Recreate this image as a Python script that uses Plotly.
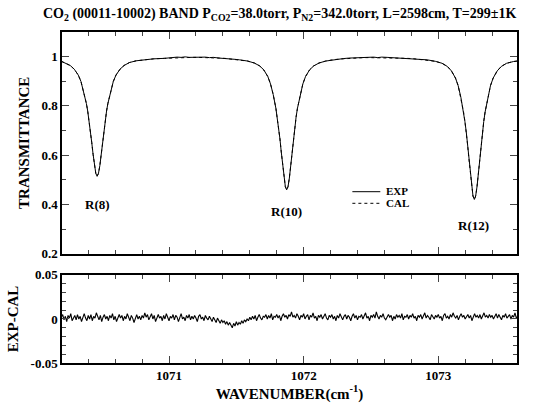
import numpy as np
import plotly.graph_objects as go

# ---------------- data ----------------
wn_exp = [1070.200, 1070.226, 1070.266, 1070.296, 1070.326, 1070.346, 1070.366, 1070.386,
          1070.396, 1070.406, 1070.416, 1070.426, 1070.436, 1070.446, 1070.456, 1070.466,
          1070.476, 1070.486, 1070.496, 1070.506, 1070.516, 1070.526, 1070.536, 1070.546,
          1070.566, 1070.586, 1070.606, 1070.636, 1070.666, 1070.706, 1070.756, 1070.816,
          1070.886, 1070.966, 1071.000, 1071.030, 1071.060, 1071.090, 1071.120, 1071.150,
          1071.180, 1071.210, 1071.240, 1071.270, 1071.300, 1071.330, 1071.374, 1071.414,
          1071.454, 1071.490, 1071.524, 1071.554, 1071.584, 1071.634, 1071.674, 1071.704,
          1071.734, 1071.754, 1071.774, 1071.794, 1071.804, 1071.814, 1071.824, 1071.834,
          1071.844, 1071.854, 1071.864, 1071.874, 1071.884, 1071.894, 1071.904, 1071.914,
          1071.924, 1071.934, 1071.944, 1071.954, 1071.974, 1071.994, 1072.014, 1072.044,
          1072.074, 1072.114, 1072.164, 1072.224, 1072.294, 1072.334, 1072.374, 1072.420,
          1072.450, 1072.480, 1072.520, 1072.550, 1072.580, 1072.620, 1072.650, 1072.680,
          1072.720, 1072.768, 1072.808, 1072.848, 1072.918, 1072.978, 1073.028, 1073.068,
          1073.098, 1073.128, 1073.148, 1073.168, 1073.188, 1073.198, 1073.208, 1073.218,
          1073.228, 1073.238, 1073.248, 1073.258, 1073.268, 1073.278, 1073.288, 1073.298,
          1073.308, 1073.318, 1073.328, 1073.338, 1073.348, 1073.368, 1073.388, 1073.408,
          1073.438, 1073.468, 1073.508, 1073.558, 1073.600]

t_exp = [0.981, 0.975, 0.964, 0.949, 0.925, 0.899, 0.860, 0.810,
         0.779, 0.742, 0.699, 0.651, 0.603, 0.557, 0.526, 0.514,
         0.526, 0.557, 0.603, 0.651, 0.699, 0.742, 0.779, 0.810,
         0.860, 0.899, 0.925, 0.949, 0.964, 0.976, 0.983, 0.988,
         0.991, 0.993, 0.995, 0.996, 0.998, 0.997, 0.999, 0.997,
         0.998, 0.999, 0.997, 0.998, 0.996, 0.997, 0.994, 0.993,
         0.991, 0.989, 0.987, 0.985, 0.982, 0.974, 0.962, 0.946,
         0.919, 0.889, 0.846, 0.790, 0.755, 0.715, 0.666, 0.612,
         0.559, 0.507, 0.472, 0.459, 0.472, 0.507, 0.559, 0.612,
         0.666, 0.715, 0.755, 0.790, 0.846, 0.889, 0.919, 0.946,
         0.962, 0.974, 0.982, 0.988, 0.992, 0.994, 0.995, 0.996,
         0.998, 0.997, 0.998, 0.996, 0.998, 0.997, 0.996, 0.997,
         0.995, 0.993, 0.992, 0.990, 0.987, 0.981, 0.973, 0.960,
         0.942, 0.913, 0.882, 0.835, 0.775, 0.737, 0.694, 0.642,
         0.584, 0.527, 0.472, 0.434, 0.420, 0.434, 0.472, 0.527,
         0.584, 0.642, 0.694, 0.737, 0.775, 0.835, 0.882, 0.913,
         0.942, 0.960, 0.973, 0.980, 0.983]

wn_cal = wn_exp
t_cal = [0.981, 0.975, 0.964, 0.949, 0.925, 0.899, 0.860, 0.810,
         0.779, 0.742, 0.699, 0.651, 0.603, 0.557, 0.526, 0.514,
         0.526, 0.557, 0.603, 0.651, 0.699, 0.742, 0.779, 0.810,
         0.860, 0.899, 0.925, 0.949, 0.964, 0.976, 0.983, 0.988,
         0.991, 0.993, 0.994, 0.995, 0.996, 0.996, 0.997, 0.997,
         0.997, 0.997, 0.997, 0.996, 0.996, 0.995, 0.994, 0.993,
         0.991, 0.989, 0.987, 0.985, 0.982, 0.974, 0.962, 0.946,
         0.919, 0.889, 0.846, 0.790, 0.755, 0.715, 0.666, 0.612,
         0.559, 0.507, 0.472, 0.459, 0.472, 0.507, 0.559, 0.612,
         0.666, 0.715, 0.755, 0.790, 0.846, 0.889, 0.919, 0.946,
         0.962, 0.974, 0.982, 0.988, 0.991, 0.993, 0.994, 0.995,
         0.996, 0.996, 0.996, 0.996, 0.996, 0.996, 0.995, 0.995,
         0.994, 0.993, 0.992, 0.990, 0.987, 0.981, 0.973, 0.960,
         0.942, 0.913, 0.882, 0.835, 0.775, 0.737, 0.694, 0.642,
         0.584, 0.527, 0.472, 0.434, 0.420, 0.434, 0.472, 0.527,
         0.584, 0.642, 0.694, 0.737, 0.775, 0.835, 0.882, 0.913,
         0.942, 0.960, 0.973, 0.980, 0.983]

# residual EXP-CAL, read every 0.01 cm-1 from 1070.20 to 1073.60
resid = [
    0.002, 0.005, -0.001, 0.003, -0.003, 0.004, 0.001, 0.006, -0.002, 0.002,
    0.004, -0.001, 0.005, 0.000, 0.003, -0.003, 0.002, 0.006, 0.001, -0.002,
    0.004, 0.000, 0.005, -0.002, 0.003, 0.001, 0.007, 0.002, -0.001, 0.004,
    -0.003, 0.002, 0.005, 0.000, 0.003, -0.002, 0.004, 0.001, 0.006, -0.001,
    0.003, -0.003, 0.002, 0.005, 0.001, 0.004, -0.002, 0.003, 0.000, 0.006,
    0.002, -0.002, 0.004, 0.001, -0.004, 0.002, 0.005, 0.000, 0.003, -0.001,
    0.004, 0.001, 0.007, 0.002, 0.005, -0.001, 0.003, 0.006, 0.000, 0.004,
    -0.003, 0.002, 0.005, 0.001, 0.003, -0.002, 0.004, 0.000, 0.006, 0.002,
    -0.002, 0.003, 0.001, 0.005, -0.001, 0.004, 0.002, -0.003, 0.003, 0.006,
    0.000, 0.002, -0.002, 0.004, 0.001, 0.005, -0.001, 0.003, 0.000, 0.004,
    0.001, -0.003, 0.003, 0.005, 0.000, 0.002, -0.002, 0.004, 0.001, -0.001,
    0.003, 0.000, -0.003, 0.002, -0.001, -0.004, 0.001, -0.002, -0.005, -0.001,
    -0.004, -0.002, -0.006, -0.003, -0.007, -0.004, -0.008, -0.010, -0.005, -0.008,
    -0.003, -0.007, -0.004, -0.006, -0.002, -0.005, -0.001, -0.003, 0.000, -0.002,
    0.002, -0.001, 0.003, 0.000, 0.004, -0.002, 0.002, 0.005, 0.001, -0.001,
    0.003, 0.002, 0.005, 0.000, 0.004, 0.001, 0.006, -0.001, 0.003, 0.002,
    0.005, 0.001, 0.004, -0.002, 0.003, 0.006, 0.002, 0.004, 0.000, 0.005,
    0.003, 0.008, 0.002, 0.004, 0.001, 0.006, 0.003, -0.001, 0.004, 0.002,
    0.006, 0.000, 0.003, 0.005, -0.001, 0.004, 0.002, 0.007, 0.001, 0.003,
    -0.002, 0.004, 0.002, 0.005, 0.000, 0.003, 0.006, 0.001, -0.001, 0.004,
    0.002, 0.005, 0.000, 0.003, -0.002, 0.004, 0.001, 0.006, 0.002, -0.001,
    0.003, 0.005, 0.000, 0.004, 0.002, -0.002, 0.003, 0.006, 0.001, 0.004,
    -0.001, 0.003, 0.002, 0.005, 0.000, 0.004, 0.007, 0.001, 0.003, -0.002,
    0.004, 0.002, 0.005, 0.001, 0.008, 0.003, 0.000, 0.004, 0.002, 0.006,
    0.001, -0.001, 0.003, 0.005, 0.002, 0.004, -0.002, 0.003, 0.000, 0.005,
    0.002, 0.004, 0.001, 0.006, -0.001, 0.003, 0.002, 0.005, 0.000, 0.004,
    0.002, 0.006, 0.001, 0.003, -0.002, 0.004, 0.002, 0.005, 0.000, 0.003,
    0.007, 0.001, 0.004, 0.002, -0.001, 0.005, 0.003, 0.000, 0.004, 0.002,
    0.005, 0.001, 0.003, -0.002, 0.004, 0.006, 0.001, 0.003, 0.000, 0.005,
    0.002, 0.007, 0.003, 0.001, 0.004, -0.001, 0.003, 0.006, 0.002, 0.004,
    0.000, 0.003, 0.005, 0.001, 0.004, -0.002, 0.003, 0.006, 0.002, 0.004,
    0.001, 0.005, 0.000, 0.003, 0.007, 0.002, 0.004, 0.001, 0.005, 0.002,
    0.004, 0.000, 0.003, 0.006, 0.001, 0.005, 0.002, -0.001, 0.004, 0.002,
    0.006, 0.001, 0.003, 0.005, 0.000, 0.004, 0.002, 0.007, 0.001, 0.003,
    0.002]
wn_resid = np.linspace(1070.20, 1073.60, len(resid))

line_labels = ["R(8)", "R(10)", "R(12)"]
line_label_x = [1070.466, 1071.874, 1073.260]
line_label_y = [0.398, 0.372, 0.315]

x_ticks = [1071, 1072, 1073]
y_ticks_top = [0.2, 0.4, 0.6, 0.8, 1.0]
y_ticktext_top = ["0.2", "0.4", "0.6", "0.8", "1"]
y_ticks_bot = [-0.05, 0, 0.05]
y_ticktext_bot = ["-0.05", "0", "0.05"]

# ---------------- figure ----------------
FONT = "Liberation Serif"
W, H = 537, 408
ML, MR, MT, MB = 61, 20, 32, 34
PW, PH = W - ML - MR, H - MT - MB


def px_x(p):
    return (p - ML) / PW


def px_y(p):
    return (H - MB - p) / PH


fig = go.Figure()
fig.add_trace(go.Scatter(x=wn_exp, y=t_exp, mode="lines", name="EXP",
                         line=dict(color="black", width=1), xaxis="x", yaxis="y",
                         showlegend=False))
fig.add_trace(go.Scatter(x=wn_cal, y=t_cal, mode="lines", name="CAL",
                         line=dict(color="black", width=1, dash="dot"), xaxis="x", yaxis="y",
                         showlegend=False))
fig.add_trace(go.Scatter(x=wn_resid, y=resid, mode="lines", name="EXP-CAL",
                         line=dict(color="black", width=1.1), xaxis="x2", yaxis="y2",
                         showlegend=False))

xrange = [1070.205, 1073.585]
common_x = dict(range=xrange, ticks="inside", ticklen=7, tickwidth=1,
                mirror="ticks", showline=True, linecolor="black", linewidth=1.5,
                showgrid=False, zeroline=False,
                minor=dict(dtick=0.2, tick0=1071, ticks="inside", ticklen=4,
                           tickwidth=1, showgrid=False),
                tickfont=dict(family=FONT, size=13, color="black"))

fig.update_layout(
    width=W, height=H, margin=dict(l=ML, r=MR, t=MT, b=MB),
    plot_bgcolor="white", paper_bgcolor="white",
    font=dict(family=FONT, color="black"),
    xaxis=dict(domain=[0, 1], anchor="y", showticklabels=False, **common_x),
    xaxis2=dict(domain=[0, 1], anchor="y2", showticklabels=True,
                title=dict(text="<b>WAVENUMBER(cm<sup>-1</sup>)</b>",
                           font=dict(family=FONT, size=15), standoff=2),
                **common_x),
    yaxis=dict(domain=[px_y(261), 1], anchor="x", range=[0.2, 1.1],
               tickvals=y_ticks_top, ticktext=["<b>%s</b>" % t for t in y_ticktext_top],
               ticks="inside", ticklen=7, mirror="ticks", showline=True,
               linecolor="black", linewidth=1.5, showgrid=False, zeroline=False,
               minor=dict(dtick=0.1, tick0=0.2, ticks="inside", ticklen=4, showgrid=False),
               tickfont=dict(family=FONT, size=13, color="black"),
               title=dict(text="<b>TRANSMITTANCE</b>", font=dict(family=FONT, size=15),
                          standoff=8)),
    yaxis2=dict(domain=[0, px_y(283)], anchor="x2", range=[-0.05, 0.05],
                tickvals=y_ticks_bot, ticktext=["<b>%s</b>" % t for t in y_ticktext_bot],
                ticks="inside", ticklen=7, mirror="ticks", showline=True,
                linecolor="black", linewidth=1.5, showgrid=False, zeroline=False,
                minor=dict(tickvals=[-0.04, -0.03, -0.02, -0.01, 0.01, 0.02, 0.03, 0.04],
                           ticks="inside", ticklen=4, showgrid=False),
                tickfont=dict(family=FONT, size=13, color="black"),
                title=dict(text="<b>EXP-CAL</b>", font=dict(family=FONT, size=15),
                           standoff=8)),
)

fig.update_xaxes(tickvals=x_ticks, ticktext=["<b>%d</b>" % v for v in x_ticks])

# title
fig.add_annotation(
    text="<b>CO<sub>2</sub> (00011-10002) BAND P<sub>CO2</sub>=38.0torr, "
         "P<sub>N2</sub>=342.0torr, L=2598cm, T=299±1K</b>",
    xref="paper", yref="paper", x=px_x(279), y=px_y(14), xanchor="center", yanchor="middle",
    showarrow=False, font=dict(family=FONT, size=14, color="black"))

# line labels
for lab, lx, ly in zip(line_labels, line_label_x, line_label_y):
    fig.add_annotation(text="<b>%s</b>" % lab, x=lx, y=ly, xref="x", yref="y",
                       showarrow=False, font=dict(family=FONT, size=13, color="black"))

# custom legend
fig.add_shape(type="line", xref="paper", yref="paper", x0=px_x(352), x1=px_x(380),
              y0=px_y(197), y1=px_y(197), line=dict(color="black", width=1))
fig.add_shape(type="line", xref="paper", yref="paper", x0=px_x(352), x1=px_x(380),
              y0=px_y(209), y1=px_y(209), line=dict(color="black", width=1, dash="dot"))
fig.add_annotation(text="<b>EXP</b>", xref="paper", yref="paper", x=px_x(384), y=px_y(196),
                   xanchor="left", yanchor="middle", showarrow=False,
                   font=dict(family=FONT, size=11, color="black"))
fig.add_annotation(text="<b>CAL</b>", xref="paper", yref="paper", x=px_x(384), y=px_y(209),
                   xanchor="left", yanchor="middle", showarrow=False,
                   font=dict(family=FONT, size=11, color="black"))

fig.write_html("out.html")
